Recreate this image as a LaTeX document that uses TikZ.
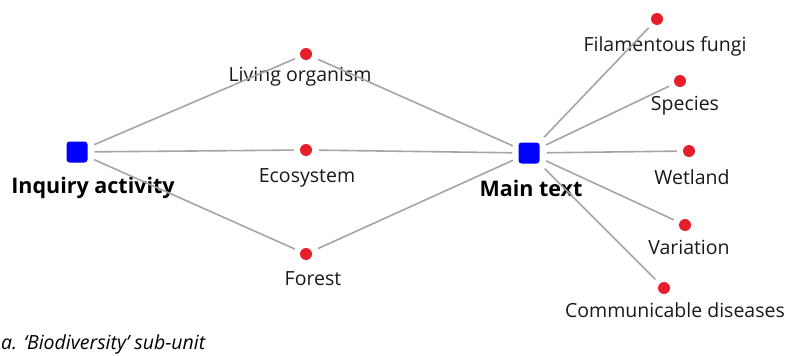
\documentclass[tikz,border=0pt]{standalone}
\usepackage{fontspec}
\setmainfont{Open Sans}
\begin{document}
\begin{tikzpicture}[x=1pt,y=-1pt,
  hub/.style={fill=blue,minimum size=21pt,inner sep=0pt,rounded corners=3pt},
  leaf/.style={circle,fill={rgb,255:red,230;green,30;blue,40},minimum size=12pt,inner sep=0pt},
  lab/.style={font=\fontsize{19.5}{22}\selectfont,inner sep=0pt,text=black!90},
  hublab/.style={font=\bfseries\fontsize{21.5}{24}\selectfont,inner sep=0pt},
  link/.style={draw={rgb,255:red,165;green,165;blue,165},line width=1.6pt,shorten <=7pt,shorten >=6pt}]
\useasboundingbox (0,0) rectangle (788,356);
\node[hub] (inq) at (77,152) {};
\node[hub] (main) at (529,153) {};
\node[hublab] (inql) at (93,188) {Inquiry activity};
\node[hublab] (mainl) at (531,188) {Main text};
\node[leaf] (liv) at (306,54) {};
\node[leaf] (eco) at (306,150) {};
\node[leaf] (for) at (306,254) {};
\node[leaf] (fil) at (657,19) {};
\node[leaf] (spe) at (680,81) {};
\node[leaf] (wet) at (689,151) {};
\node[leaf] (var) at (685,225) {};
\node[leaf] (com) at (664,288) {};
\node[lab] (livl) at (300,77) {Living organism};
\node[lab] (ecol) at (307,178) {Ecosystem};
\node[lab] (forl) at (313,279) {Forest};
\node[lab] (fill) at (665,46) {Filamentous fungi};
\node[lab] (spel) at (685,106) {Species};
\node[lab] (wetl) at (692,177) {Wetland};
\node[lab] (varl) at (689,247) {Variation};
\node[lab] (coml) at (675,310) {Communicable diseases};
\foreach \a/\b in {inq/liv,inq/eco,inq/for,liv/main,eco/main,for/main,main/fil,main/spe,main/wet,main/var,main/com}
  \draw[link] (\a) -- (\b);
\node[anchor=base west,inner sep=0pt,font=\itshape\fontsize{19.5}{21}\selectfont] (cap) at (1,349.5) {a. ‘Biodiversity’ sub-unit};
\end{tikzpicture}
\end{document}
